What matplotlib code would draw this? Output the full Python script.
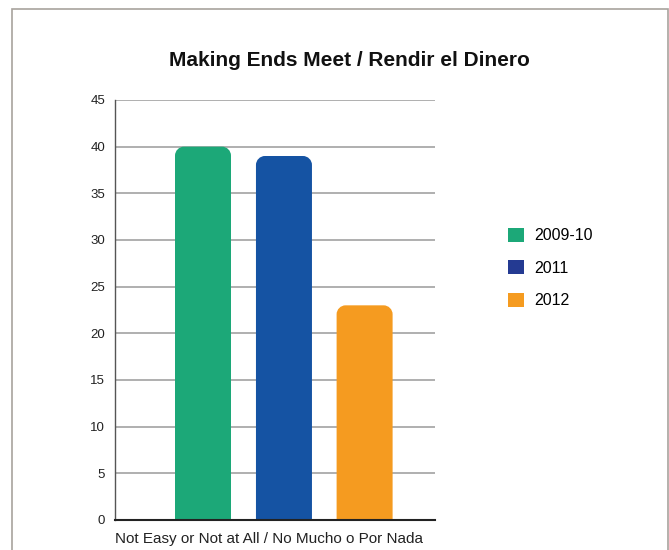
import matplotlib
matplotlib.use("Agg")
import matplotlib.pyplot as plt
from matplotlib.path import Path
from matplotlib.patches import PathPatch, Patch, Rectangle

plt.rcParams['font.family'] = ['Liberation Sans', 'DejaVu Sans']

title = "Making Ends Meet / Rendir el Dinero"
category = "Not Easy or Not at All / No Mucho o Por Nada"
series = ["2009-10", "2011", "2012"]
values = [40, 39, 23]
bar_colors = ["#1ca878", "#1553a3", "#f59b20"]
legend_colors = ["#1ca878", "#243a92", "#f59b20"]
yticks = [0, 5, 10, 15, 20, 25, 30, 35, 40, 45]

W, H = 669, 550
fig = plt.figure(figsize=(W / 100, H / 100), dpi=100)
fig.patch.set_facecolor("white")

# outer frame
fig.patches.append(Rectangle((12 / W, -0.05), (668 - 12) / W, 1.05 - 9 / H,
                             transform=fig.transFigure, fill=False,
                             edgecolor="#a8a39d", linewidth=1.2))

ax = fig.add_axes([115 / W, 1 - 520 / H, 320 / W, 420 / H])
ax.set_xlim(-0.5, 0.5)
ax.set_ylim(0, 45)

offsets = [-0.225, 0.028, 0.280]
width = 0.175
bars = ax.bar([0 + o for o in offsets], values, width=width, color=bar_colors)

# rounded top corners: radius in pixels converted to data units
r_px = 9
rx = r_px / 320 * 1.0
ry = r_px / 420 * 45
k = 0.5523
for b, c in zip(bars, bar_colors):
    x0, w, h = b.get_x(), b.get_width(), b.get_height()
    x1 = x0 + w
    verts = [
        (x0, 0), (x0, h - ry),
        (x0, h - ry + k * ry), (x0 + rx - k * rx, h), (x0 + rx, h),
        (x1 - rx, h),
        (x1 - rx + k * rx, h), (x1, h - ry + k * ry), (x1, h - ry),
        (x1, 0), (x0, 0),
    ]
    codes = [Path.MOVETO, Path.LINETO,
             Path.CURVE4, Path.CURVE4, Path.CURVE4,
             Path.LINETO,
             Path.CURVE4, Path.CURVE4, Path.CURVE4,
             Path.LINETO, Path.CLOSEPOLY]
    b.set_visible(False)
    ax.add_patch(PathPatch(Path(verts, codes), facecolor=c, edgecolor="none", zorder=3))

ax.set_yticks(yticks)
ax.set_yticklabels([str(t) for t in yticks], fontsize=9.5, color="#222222")
ax.tick_params(axis="y", length=0, pad=7)
ax.set_xticks([-0.02])
ax.set_xticklabels([category], fontsize=11, color="#222222")
ax.tick_params(axis="x", length=0, pad=9)
ax.grid(axis="y", color="#a9a9a9", linewidth=1.3)
ax.set_axisbelow(True)
for s in ["top", "right"]:
    ax.spines[s].set_visible(False)
ax.spines["left"].set_color("#555555")
ax.spines["left"].set_linewidth(1.0)
ax.spines["bottom"].set_color("#222222")
ax.spines["bottom"].set_linewidth(1.5)
ax.spines["bottom"].set_zorder(4)

fig.text(349 / W, 1 - 60 / H, title, ha="center", va="center",
         fontsize=15, fontweight="bold", color="#111111")

handles = [Patch(facecolor=c, edgecolor="none") for c in legend_colors]
leg = fig.legend(handles, series, loc="center left",
                 bbox_to_anchor=(502 / W, 1 - 268 / H), frameon=False,
                 fontsize=11.5, handlelength=1.0, handleheight=1.0,
                 labelspacing=1.05, handletextpad=0.65, borderaxespad=0)

fig.savefig("out.png", dpi=100, facecolor="white")
